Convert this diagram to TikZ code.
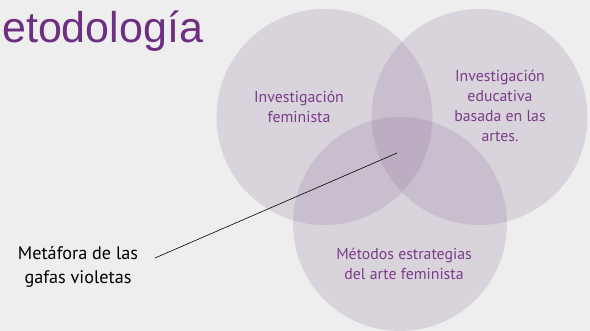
\documentclass[tikz,border=0pt]{standalone}
\usepackage{fontspec}
\setmainfont{PT Sans}
\newfontfamily\titlefont{Liberation Sans}
\definecolor{bg}{HTML}{EDEEED}
\definecolor{circ}{HTML}{8B6A96}
\definecolor{ptext}{HTML}{7A3D8A}
\definecolor{ttl}{HTML}{6E2F82}
\begin{document}
\begin{tikzpicture}[x=1pt,y=-1pt,
  vcirc/.style={circle, fill=circ, fill opacity=0.2, draw=none, minimum size=216pt, inner sep=0pt},
  ctext/.style={text=ptext, font=\fontsize{15.8}{20}\selectfont, align=center},
  ltext/.style={text=black, font=\fontsize{18.2}{23.5}\selectfont, align=center}]
\path[fill=bg, use as bounding box] (0,0) rectangle (590,331);
\begin{scope}
\clip (0,0) rectangle (590,331);
\node[vcirc] (c1) at (324.5,117) {};
\node[vcirc] (c2) at (479.5,117) {};
\node[vcirc, minimum size=214pt] (c3) at (400,224) {};
\end{scope}
\node[anchor=base west, text=ttl, font=\titlefont\fontsize{43}{50}\selectfont, inner sep=0pt] (title) at (2,43) {etodología};
\node[ctext] (t1) at (299,107) {Investigación\\feminista};
\node[ctext] (t2) at (500,106) {Investigación\\educativa\\basada en las\\artes.};
\node[ctext] (t3) at (404,264) {Métodos estrategias\\del arte feminista};
\node[ltext] (lab) at (78,267) {Metáfora de las\\gafas violetas};
\coordinate (p) at (397,153);
\coordinate (q) at (155,258);
\draw[black, line width=0.6pt] (q) -- (p);
\end{tikzpicture}
\end{document}
